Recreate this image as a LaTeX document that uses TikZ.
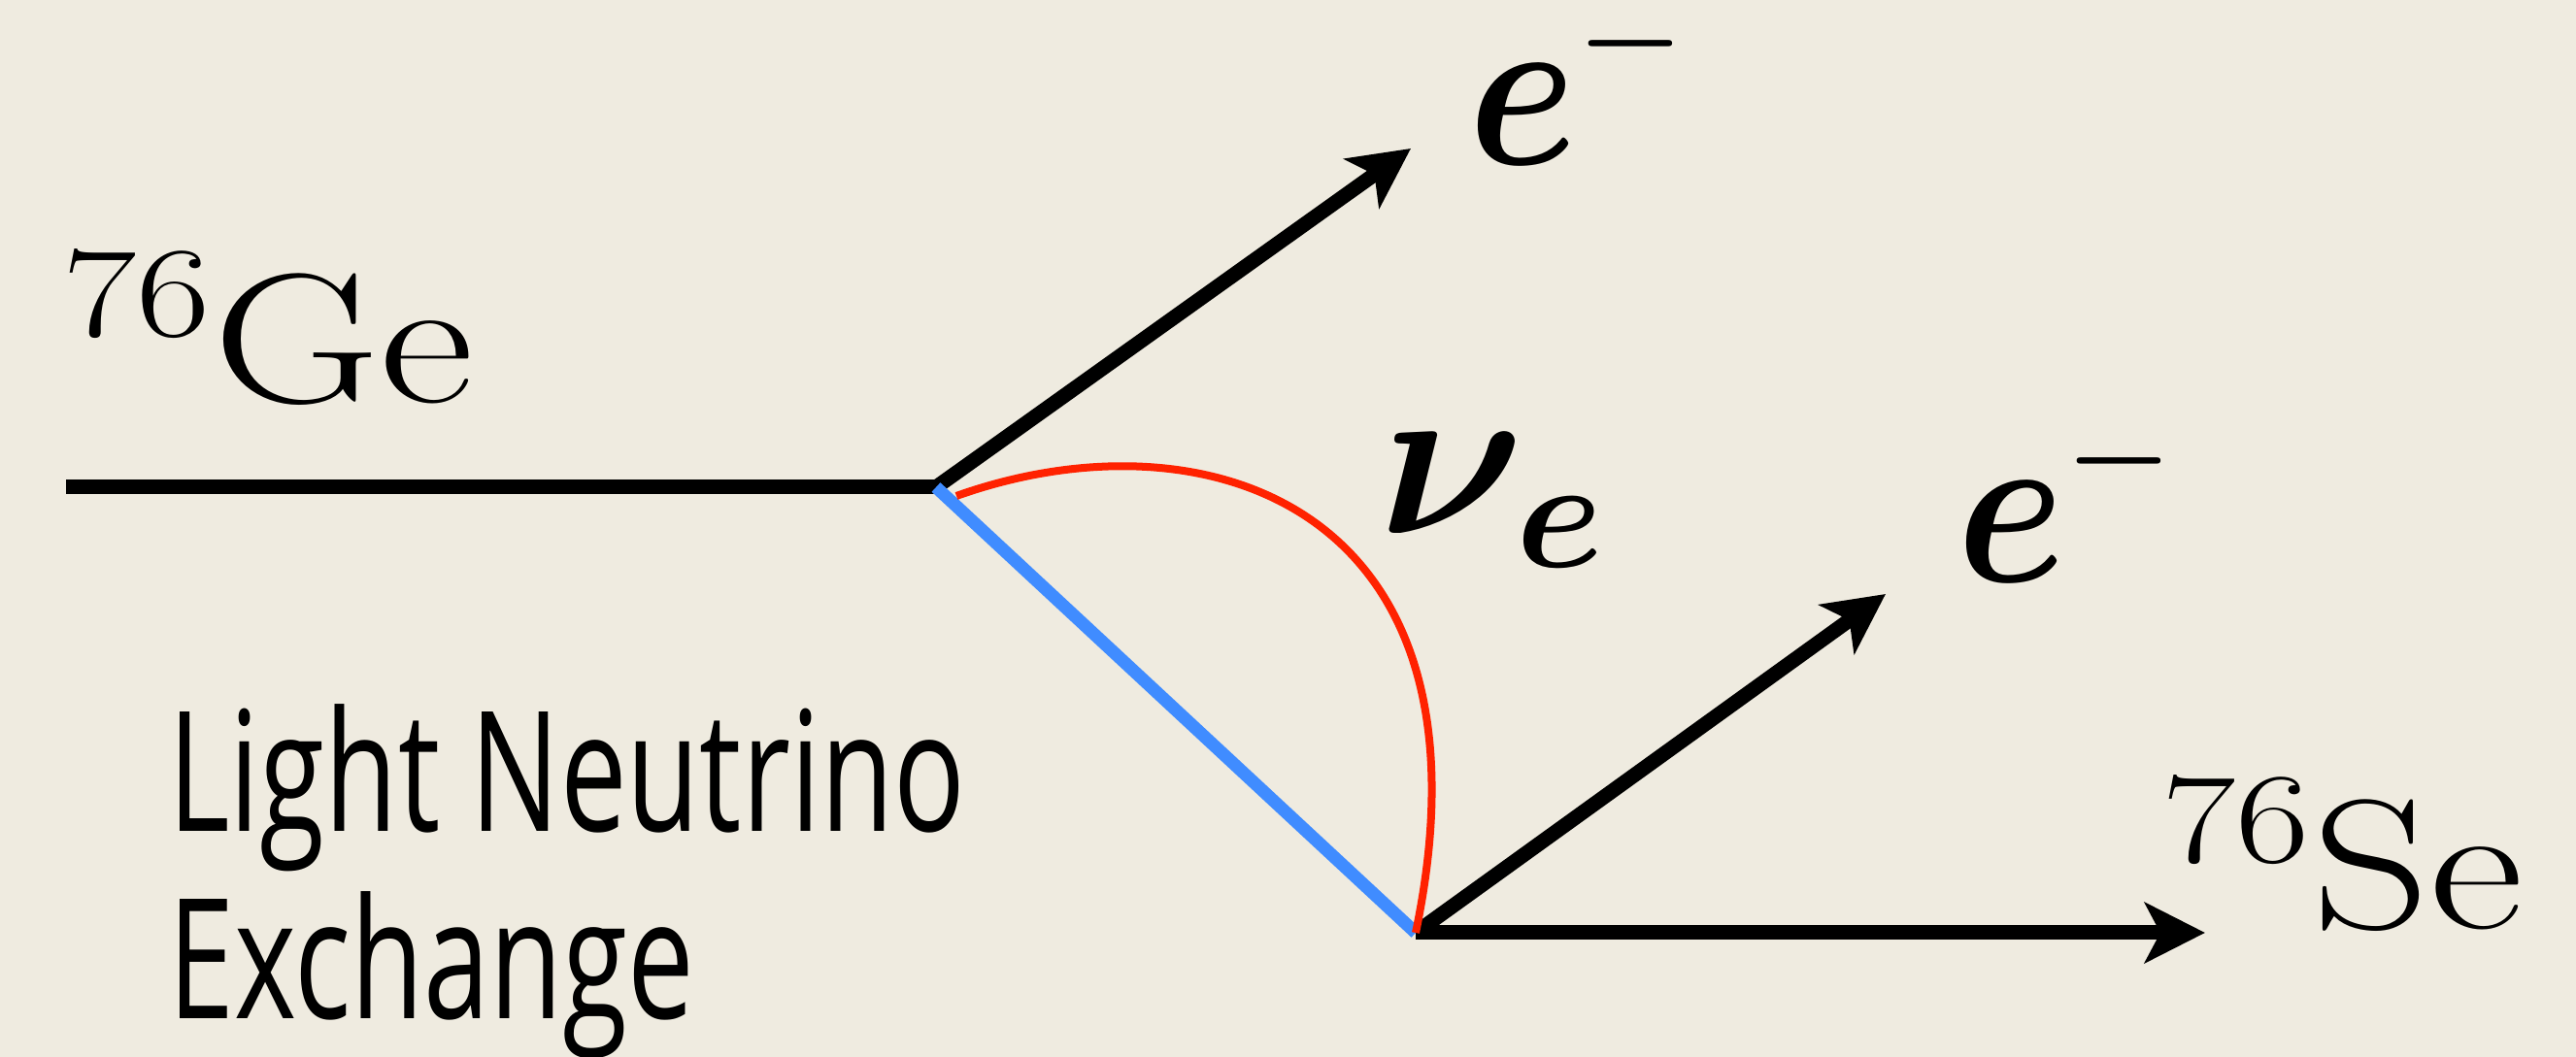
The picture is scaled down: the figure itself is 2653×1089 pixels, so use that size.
\RequirePackage{fix-cm}
\documentclass[tikz,border=0pt]{standalone}
\usepackage{amsmath,amssymb}
\usepackage{fontspec}
\newfontfamily\captionfont{Open Sans}
\usetikzlibrary{arrows.meta}
\definecolor{paper}{RGB}{239,235,224}
\definecolor{nublue}{RGB}{64,140,255}
\definecolor{nured}{RGB}{255,34,0}

\begin{document}
\begin{tikzpicture}[x=0.01cm, y=-0.01cm,
      line/.style={line width=0.15cm},
      lepton/.style={line width=0.15cm,
                     -{Stealth[length=0.62cm, width=0.62cm, inset=0.16cm]}},
      partlabel/.style={inner sep=0pt, anchor=base west,
                        font=\fontsize{66}{70}\selectfont},
      elabel/.style={partlabel, xscale=0.87},
      nuclabel/.style={partlabel, xscale=1.25, font=\fontsize{54}{58}\selectfont},
      caption/.style={inner sep=0pt, anchor=base west, align=left, xscale=0.71,
                      font=\captionfont\fontsize{49}{55}\selectfont}]
    \fill[paper] (0,0) rectangle (2653,1089);
    \useasboundingbox (0,0) rectangle (2653,1089);
    % vertices and free ends
    \coordinate (ge) at (68,502);
    \coordinate (v1) at (964,502);
    \coordinate (v2) at (1458,961);
    \coordinate (e1) at (1453,153);
    \coordinate (e2) at (1942,612);
    \coordinate (se) at (2271,961);
    \coordinate (nu0) at (985,511);
    % labels
    \node[nuclabel] (gelbl) at (64,415) {$^{76}\mathrm{Ge}$};
    \node[elabel] (e1lbl) at (1512,170) {$\boldsymbol{e}^{-}$};
    \node[elabel] (e2lbl) at (2015,600) {$\boldsymbol{e}^{-}$};
    \node[partlabel] (nulbl) at (1420,550)
      {${\boldsymbol{\nu}}_{\mkern-1mu\boldsymbol{e}}$};
    \node[nuclabel] (selbl) at (2226,957) {$^{76}\mathrm{Se}$};
    \node[caption] (lne) at (173,1050) {Light Neutrino\\Exchange};
    % lines
    \draw[line] (ge) -- (v1);
    \draw[lepton] (v1) -- (e1);
    \draw[lepton] (v2) -- (e2);
    \draw[lepton] (v2) -- (se);
    \draw[nublue, line width=0.13cm] (v1) -- (v2);
    \draw[nured, line width=0.08cm] (nu0) .. controls (1240,420) and (1550,520) .. (v2);
  \end{tikzpicture}
\end{document}
